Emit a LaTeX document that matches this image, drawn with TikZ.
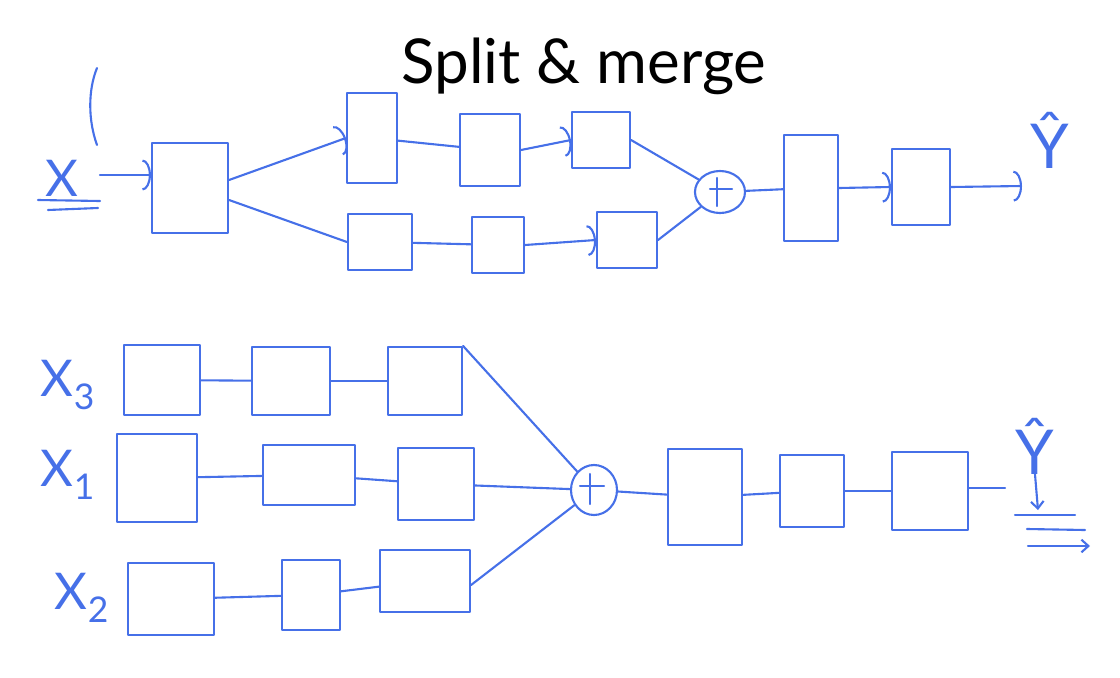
\documentclass[tikz,border=0pt]{standalone}
\usepackage{fontspec}
\setmainfont{Lato}
\usetikzlibrary{arrows.meta,shapes.geometric}
\definecolor{pen}{RGB}{70,112,232}
\tikzset{
  ink/.style={draw=pen,line width=1.5pt,line cap=round,line join=round},
  blk/.style={ink,rectangle,inner sep=0pt},
  sum/.style={ink,ellipse,inner sep=0pt},
  arr/.style={ink,-{Arc Barb[length=6pt,width=22pt,line width=1.5pt]}},
  barb/.style={ink,-{Straight Barb[length=5pt,width=9pt,line width=1.5pt]}},
  lbl/.style={text=pen,font=\fontsize{36}{36}\selectfont,inner sep=0pt}
}
\begin{document}
\begin{tikzpicture}[x=0.025cm,y=-0.025cm]
\useasboundingbox (0,0) rectangle (1120,678);
\node[font=\fontsize{44}{44}\selectfont] (title) at (584,66) {Split \& merge};
% top: one input split in two branches
\node[lbl] (xin) at (62,178) {X};
\draw[ink] (38,200) -- (100,201);
\draw[ink] (48,210) -- (98,208);
\draw[ink] (97,145) .. controls (88,120) and (88,90) .. (97,68);
\coordinate (xo) at (100,175);
\node[blk,minimum width=1.9cm,minimum height=2.25cm] (split) at (190,188) {};
\node[blk,minimum width=1.25cm,minimum height=2.25cm] (up1) at (372,138) {};
\node[blk,minimum width=1.5cm,minimum height=1.8cm] (up2) at (490,150) {};
\node[blk,minimum width=1.45cm,minimum height=1.4cm] (up3) at (601,140) {};
\node[blk,minimum width=1.6cm,minimum height=1.4cm] (lo1) at (380,242) {};
\node[blk,minimum width=1.3cm,minimum height=1.4cm] (lo2) at (498,245) {};
\node[blk,minimum width=1.5cm,minimum height=1.4cm] (lo3) at (627,240) {};
\node[sum,minimum width=1.25cm,minimum height=1.05cm] (mrgA) at (720,192) {};
\draw[ink] (mrgA.center) ++(-10,-3) -- ++(22,0);
\draw[ink] (mrgA.center) ++(-3,-14) -- ++(0,28);
\node[blk,minimum width=1.35cm,minimum height=2.65cm] (out1) at (811,188) {};
\node[blk,minimum width=1.45cm,minimum height=1.9cm] (out2) at (921,187) {};
\node[lbl,font=\fontsize{44}{44}\selectfont] (yhat) at (1050,140) {Ŷ};
\coordinate (yo) at (1022,186);
\draw[arr] (xo) -- (xo -| split.west);
\draw[arr] ([yshift=0.2cm]split.east) -- (up1.west);
\draw[ink] ([yshift=-0.3cm]split.east) -- (lo1.west);
\draw[ink] (up1) -- (up2);
\draw[arr] (up2.east) -- (up3.west);
\draw[ink] (up3.east) -- (mrgA);
\draw[ink] (lo1) -- (lo2);
\draw[arr] (lo2.east) -- (lo3.west);
\draw[ink] (lo3.east) -- (mrgA);
\draw[ink] (mrgA) -- (out1);
\draw[arr] (out1.east) -- (out2.west);
\draw[arr] (out2.east) -- (yo);
% bottom: three inputs merged into one
\node[lbl] (x3) at (68,385) {X\textsubscript{3}};
\node[lbl] (x1) at (68,475) {X\textsubscript{1}};
\node[lbl] (x2) at (82,598) {X\textsubscript{2}};
\node[blk,minimum width=1.9cm,minimum height=1.75cm] (a1) at (162,380) {};
\node[blk,minimum width=1.95cm,minimum height=1.7cm] (a2) at (291,381) {};
\node[blk,minimum width=1.85cm,minimum height=1.7cm] (a3) at (425,381) {};
\node[blk,minimum width=2.0cm,minimum height=2.2cm] (b1) at (157,478) {};
\node[blk,minimum width=2.3cm,minimum height=1.5cm] (b2) at (309,475) {};
\node[blk,minimum width=1.9cm,minimum height=1.8cm] (b3) at (436,484) {};
\node[blk,minimum width=2.15cm,minimum height=1.8cm] (c1) at (171,599) {};
\node[blk,minimum width=1.45cm,minimum height=1.75cm] (c2) at (311,595) {};
\node[blk,minimum width=2.25cm,minimum height=1.55cm] (c3) at (425,581) {};
\node[sum,minimum width=1.15cm,minimum height=1.25cm] (mrgB) at (594,490) {};
\draw[ink] (mrgB.center) ++(-14,-4) -- ++(24,0);
\draw[ink] (mrgB.center) ++(-4,-16) -- ++(0,30);
\node[blk,minimum width=1.85cm,minimum height=2.4cm] (post1) at (705,497) {};
\node[blk,minimum width=1.6cm,minimum height=1.8cm] (post2) at (812,491) {};
\node[blk,minimum width=1.9cm,minimum height=1.95cm] (post3) at (930,491) {};
\node[lbl,font=\fontsize{44}{44}\selectfont] (yhat2) at (1035,446) {Ŷ};
\coordinate (yb) at (1005,488);
\coordinate (dn) at (1038,510);
\draw[ink] (a1) -- (a2);
\draw[ink] (a2) -- (a3);
\draw[ink] (a3.north east) -- (mrgB);
\draw[ink] (b1) -- (b2);
\draw[ink] (b2) -- (b3);
\draw[ink] (b3) -- (mrgB);
\draw[ink] (c1) -- (c2);
\draw[ink] (c2) -- (c3);
\draw[ink] ([yshift=-0.1cm]c3.east) -- (mrgB);
\draw[ink] (mrgB) -- (post1);
\draw[ink] (post1) -- (post2);
\draw[ink] (post2) -- (post3);
\draw[ink] (post3.east |- yb) -- (yb);
\draw[barb] (yhat2.south) -- (dn);
\draw[ink] (1015,515) -- (1075,515);
\draw[ink] (1027,529) -- (1085,530);
\draw[barb] (1028,546) -- (1090,546);
\end{tikzpicture}
\end{document}
